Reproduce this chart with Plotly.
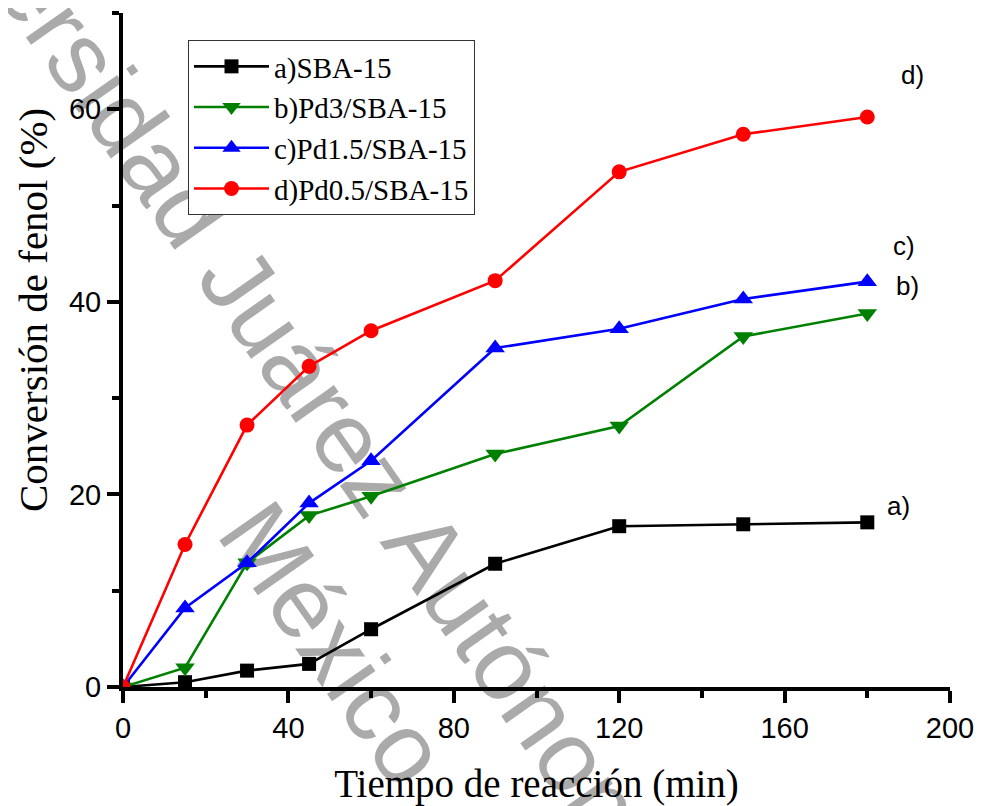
import plotly.graph_objects as go

time_min = [0, 15, 30, 45, 60, 90, 120, 150, 180]
sba15 = [0, 0.5, 1.7, 2.4, 6.0, 12.8, 16.7, 16.9, 17.1]
pd3 = [0, 2.0, 12.9, 17.8, 19.8, 24.2, 27.1, 36.4, 38.8]
pd15 = [0, 8.2, 12.9, 19.1, 23.5, 35.2, 37.2, 40.3, 42.1]
pd05 = [0, 14.8, 27.2, 33.3, 37.0, 42.2, 53.5, 57.4, 59.2]

names = ["a)SBA-15", "b)Pd3/SBA-15", "c)Pd1.5/SBA-15", "d)Pd0.5/SBA-15"]
colors = ["#000000", "#008000", "#0000ff", "#ff0000"]
symbols = ["square", "triangle-down", "triangle-up", "circle"]
msizes = [14, 17, 17, 15]
series = [sba15, pd3, pd15, pd05]

end_labels = ["a)", "b)", "c)", "d)"]
end_x = [187.6, 189.6, 188.9, 191.0]
end_y = [18.8, 41.6, 45.8, 63.6]

x_ticks = [0, 40, 80, 120, 160, 200]
y_ticks = [0, 20, 40, 60]

watermark = "Universidad Juárez Autónoma de Tabasco<br>México"

# page has an 8px body margin: figure is drawn from (8, 8)
W, H = 974, 798
ML, MR, MT, MB = 115, 32, 5, 119
PW = W - ML - MR
PH = H - MT - MB


def px_to_paper(px, py):
    """page pixel -> paper coords (accounting for the 8px page offset)"""
    return ((px - 8 - ML) / PW, (H - MB - (py - 8)) / PH)


fig = go.Figure()
for nm, col, sym, ms, ys in zip(names, colors, symbols, msizes, series):
    fig.add_trace(go.Scatter(
        x=time_min, y=ys, name=nm, mode="lines+markers",
        line=dict(color=col, width=2.6),
        marker=dict(symbol=sym, size=ms, color=col, line=dict(width=0)),
    ))

for t, xv, yv in zip(end_labels, end_x, end_y):
    fig.add_annotation(x=xv, y=yv, xref="x", yref="y", text=t, showarrow=False,
                       font=dict(family="Arial, Liberation Sans", size=26, color="black"),
                       xanchor="center", yanchor="middle")

# y-axis title as annotation
yt_x, yt_y = px_to_paper(33, 310)
fig.add_annotation(x=yt_x, y=yt_y, xref="paper", yref="paper",
                   text="Conversión de fenol (%)", showarrow=False, textangle=-90,
                   font=dict(family="Times New Roman, Liberation Serif", size=41, color="black"),
                   xanchor="center", yanchor="middle")

# watermark below traces
wx, wy = px_to_paper(395, 601)
fig.add_shape(type="rect", xref="paper", yref="paper",
              x0=wx - 0.05, x1=wx + 0.05, y0=wy - 0.05, y1=wy + 0.05,
              line=dict(width=0), fillcolor="rgba(0,0,0,0)", layer="below",
              label=dict(text=watermark, textangle=55, textposition="middle center",
                         font=dict(family="Arial, Liberation Sans", size=100, color="#aaaaaa")))

axis_common = dict(
    showline=True, linewidth=4, linecolor="black", mirror=False,
    ticks="outside", ticklen=12, tickwidth=4, tickcolor="black",
    showgrid=False, zeroline=False, automargin=False,
    tickfont=dict(family="Arial, Liberation Sans", size=29, color="black"),
)

lx, ly = px_to_paper(188, 40)
fig.update_layout(
    width=W, height=H,
    margin=dict(l=ML, r=MR, t=MT, b=MB),
    plot_bgcolor="white", paper_bgcolor="white",
    showlegend=True,
    legend=dict(x=lx, y=ly, xanchor="left", yanchor="top",
                bgcolor="white", bordercolor="#333333", borderwidth=1,
                font=dict(family="Times New Roman, Liberation Serif", size=29, color="black"),
                itemwidth=75, tracegroupgap=0),
    xaxis=dict(range=[0, 200], tickvals=x_ticks, ticktext=[str(v) for v in x_ticks],
               minor=dict(dtick=20, tick0=0, ticks="outside", ticklen=7, tickwidth=4, tickcolor="black"),
               title=dict(text="Tiempo de reacción (min)", standoff=33,
                          font=dict(family="Times New Roman, Liberation Serif", size=39, color="black")),
               **axis_common),
    yaxis=dict(range=[0, 70], tickvals=y_ticks, ticktext=[str(v) for v in y_ticks],
               minor=dict(dtick=10, tick0=0, ticks="outside", ticklen=7, tickwidth=4, tickcolor="black"),
               **axis_common),
)

fig.write_html("out.html")
